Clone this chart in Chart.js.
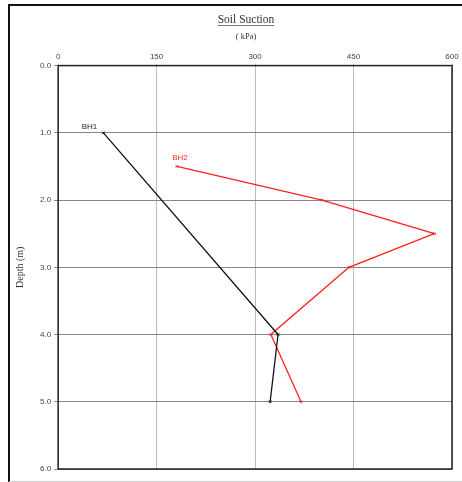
<!DOCTYPE html>
<html>
<head>
<meta charset="utf-8">
<script src="https://cdn.jsdelivr.net/npm/chart.js@4.4.0/dist/chart.umd.min.js"></script>
<style>
  html, body { margin: 0; padding: 0; background: #fff; }
  #wrap { width: 462px; height: 482px; position: relative; }
</style>
</head>
<body>
<div id="wrap"><canvas id="suctionChart"></canvas></div>
<script>
// values
const bh1Depth = [1.0, 4.0, 5.0];
const bh1Suction = [69, 335, 323];
const bh2Depth = [1.5, 2.0, 2.5, 3.0, 4.0, 5.0];
const bh2Suction = [181, 402, 573, 443, 324, 370];
const xTicks = [0, 150, 300, 450, 600];
const yTicks = [0, 1, 2, 3, 4, 5, 6];

const toPoints = (xs, ys) => xs.map((x, i) => ({ x: x, y: ys[i] }));

// frame, title underline and series labels
const decorations = {
  id: "decorations",
  beforeDraw(chart) {
    const ctx = chart.ctx;
    ctx.save();
    ctx.strokeStyle = "#111";
    ctx.lineWidth = 2;
    ctx.beginPath();
    ctx.moveTo(9, 482);
    ctx.lineTo(9, 5);
    ctx.lineTo(462, 5);
    ctx.stroke();
    ctx.strokeStyle = "#ccc";
    ctx.lineWidth = 1;
    ctx.beginPath();
    ctx.moveTo(9, 481.5);
    ctx.lineTo(462, 481.5);
    ctx.stroke();
    ctx.restore();
  },
  afterDraw(chart) {
    const ctx = chart.ctx;
    const a = chart.chartArea;
    const xs = chart.scales.x;
    const ys = chart.scales.y;
    ctx.save();
    // plot border
    ctx.strokeStyle = "#222";
    ctx.lineWidth = 1.5;
    ctx.strokeRect(a.left, a.top, a.right - a.left, a.bottom - a.top);

    // title
    ctx.fillStyle = "#333";
    ctx.textAlign = "center";
    ctx.textBaseline = "alphabetic";
    ctx.font = "11.5px 'Liberation Serif'";
    ctx.fillText("Soil Suction", 246, 23);
    const w = ctx.measureText("Soil Suction").width;
    ctx.strokeStyle = "#555";
    ctx.lineWidth = 0.8;
    ctx.beginPath();
    ctx.moveTo(246 - w / 2, 25.5);
    ctx.lineTo(246 + w / 2, 25.5);
    ctx.stroke();
    ctx.font = "8.5px 'Liberation Serif'";
    ctx.fillText("( kPa)", 246, 39);

    // series labels
    ctx.font = "8px 'Liberation Sans'";
    ctx.fillStyle = "#222";
    ctx.fillText("BH1", xs.getPixelForValue(bh1Suction[0]) - 14, ys.getPixelForValue(bh1Depth[0]) - 4);
    ctx.fillStyle = "#ff2a2a";
    ctx.fillText("BH2", xs.getPixelForValue(bh2Suction[0]) + 3, ys.getPixelForValue(bh2Depth[0]) - 6);
    ctx.restore();
  },
};

new Chart(document.getElementById("suctionChart"), {
  type: "scatter",
  data: {
    datasets: [
      {
        label: "BH1",
        data: toPoints(bh1Suction, bh1Depth),
        showLine: true,
        borderColor: "#111",
        backgroundColor: "#111",
        borderWidth: 1.3,
        pointStyle: "crossRot",
        pointRadius: 1.8,
        pointBorderWidth: 1,
      },
      {
        label: "BH2",
        data: toPoints(bh2Suction, bh2Depth),
        showLine: true,
        borderColor: "#ff1f1f",
        backgroundColor: "#ff1f1f",
        borderWidth: 1.3,
        pointStyle: "crossRot",
        pointRadius: 1.8,
        pointBorderWidth: 1,
      },
    ],
  },
  options: {
    responsive: true,
    maintainAspectRatio: false,
    animation: false,
    layout: {
      padding: { top: 50, right: 10, bottom: 13, left: 14 },
    },
    scales: {
      x: {
        type: "linear",
        position: "top",
        min: 0,
        max: 600,
        afterBuildTicks: (scale) => {
          scale.ticks = xTicks.map((v) => ({ value: v }));
        },
        ticks: {
          color: "#444",
          font: { family: "'Liberation Sans'", size: 8 },
          padding: 2,
          maxRotation: 0,
        },
        grid: {
          color: "#bbb",
          lineWidth: 1,
          tickLength: 2,
        },
        border: { display: false },
      },
      y: {
        type: "linear",
        reverse: true,
        min: 0,
        max: 6,
        afterBuildTicks: (scale) => {
          scale.ticks = yTicks.map((v) => ({ value: v }));
        },
        ticks: {
          color: "#444",
          font: { family: "'Liberation Sans'", size: 8 },
          padding: 3,
          callback: (v) => Number(v).toFixed(1),
        },
        title: {
          display: true,
          text: "Depth (m)",
          color: "#333",
          font: { family: "'Liberation Serif'", size: 10 },
          padding: { top: 0, bottom: 11 },
        },
        grid: {
          color: "#888",
          lineWidth: 1,
          tickLength: 4,
        },
        border: { display: false },
      },
    },
    plugins: {
      legend: { display: false },
      tooltip: { enabled: false },
    },
  },
  plugins: [decorations],
});
</script>
</body>
</html>
